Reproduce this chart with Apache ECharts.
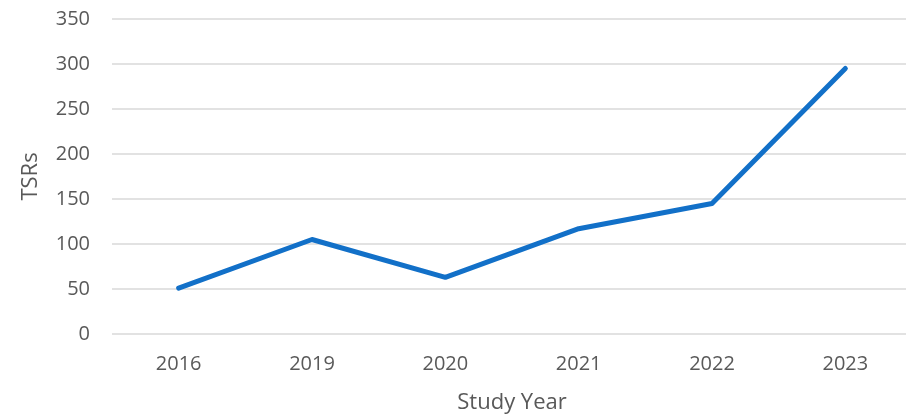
<!DOCTYPE html>
<html>
<head>
<meta charset="utf-8">
<script src="https://cdn.jsdelivr.net/npm/echarts@6/dist/echarts.min.js"></script>
<style>html,body{margin:0;padding:0;background:#fff;overflow:hidden;}#c{width:912px;height:419px;}</style>
</head>
<body>
<div id="c"></div>
<script>
const categories = ['2016', '2019', '2020', '2021', '2022', '2023'];
const tsrValues = [51, 105, 63, 117, 145, 295];
const yTicks = { min: 0, max: 350, interval: 50 };
const xName = 'Study Year';
const yName = 'TSRs';

const chart = echarts.init(document.getElementById('c'), null, { renderer: 'canvas' });
const font = '"Open Sans", "Noto Sans", sans-serif';
chart.setOption({
  animation: false,
  backgroundColor: '#ffffff',
  grid: { left: 112, right: 0, top: 19, bottom: 84, containLabel: false },
  xAxis: {
    type: 'category',
    data: categories,
    boundaryGap: true,
    axisLine: { show: false },
    axisTick: { show: false },
    axisLabel: { color: '#595959', fontSize: 20, fontFamily: font, margin: 20 },
    name: xName,
    nameLocation: 'middle',
    nameGap: 58,
    nameTextStyle: { color: '#595959', fontSize: 22, fontFamily: font }
  },
  yAxis: {
    type: 'value',
    min: yTicks.min, max: yTicks.max, interval: yTicks.interval,
    axisLine: { show: false },
    axisTick: { show: false },
    splitLine: { lineStyle: { color: '#d9d9d9', width: 1.5 } },
    axisLabel: { color: '#595959', fontSize: 20, fontFamily: font, margin: 22 },
    name: yName,
    nameLocation: 'middle',
    nameGap: 70,
    nameTextStyle: { color: '#595959', fontSize: 22, fontFamily: font }
  },
  series: [{
    type: 'line',
    data: tsrValues,
    symbol: 'none',
    lineStyle: { color: '#1270c8', width: 5, cap: 'round', join: 'round' }
  }]
});
</script>
</body>
</html>
